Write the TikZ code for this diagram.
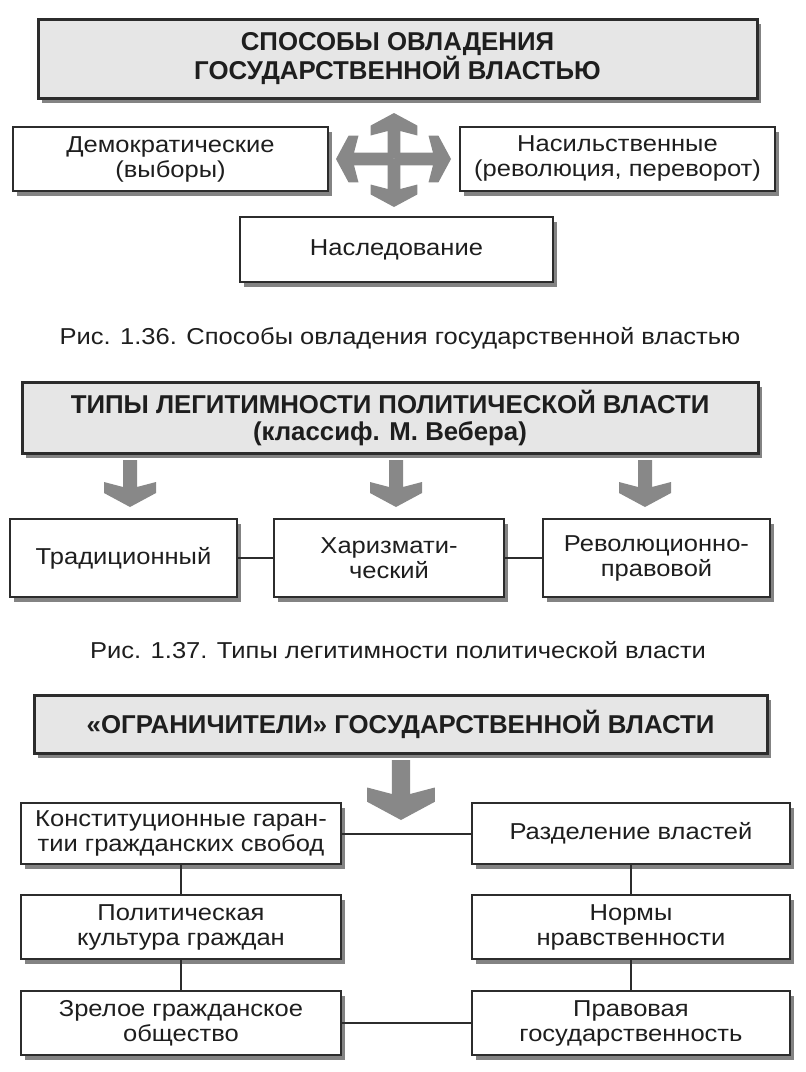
\documentclass[tikz,border=0pt]{standalone}
\usepackage{fontspec}
\setmainfont{Liberation Sans}[FakeStretch=1.11]
\newfontfamily\headfont{Liberation Sans}
\usetikzlibrary{shadows}
\definecolor{ink}{HTML}{1E1E1E}
\definecolor{framegray}{HTML}{2C2C2C}
\definecolor{headfill}{HTML}{E6E6E6}
\definecolor{arrowgray}{HTML}{888888}
\definecolor{shadowgray}{HTML}{6E6E6E}
\begin{document}
\begin{tikzpicture}[x=1pt, y=-1pt,
    box/.style={rectangle, draw=framegray, line width=2pt, fill=white, minimum height=64pt, inner sep=0pt, align=center, text=ink, font=\fontsize{23}{25}\selectfont, drop shadow={shadow xshift=4pt, shadow yshift=-5pt, fill=shadowgray, opacity=0.85}},
    headbox/.style={box, line width=3pt, fill=headfill, font=\headfont\bfseries\fontsize{25.8}{27}\selectfont},
    caption/.style={text=ink, font=\fontsize{23}{25}\selectfont},
    link/.style={draw=framegray, line width=2pt},
    fatarrow/.pic={\fill[arrowgray] (0,0) -- (-26,-14) -- (-26,-25) -- (-7,-20) -- (-7,-#1) -- (7,-#1) -- (7,-20) -- (26,-25) -- (26,-14) -- cycle;}
]
\fill[white] (0,0) rectangle (806,1072);
\useasboundingbox (0,0) rectangle (806,1072);
% Fig. 1.36
\node[headbox, minimum width=719pt, minimum height=79pt] (ways) at (397.5,58.5) {СПОСОБЫ ОВЛАДЕНИЯ\\ГОСУДАРСТВЕННОЙ ВЛАСТЬЮ};
\node[box, minimum width=315pt] (democ) at (170.5,159) {Демократические\\(выборы)};
\node[box, minimum width=315pt] (violent) at (617.5,158.5) {Насильственные\\(революция, переворот)};
\node[box, minimum width=313pt, minimum height=65pt] (inherit) at (396.5,249.5) {Наследование};
\pic[rotate=180, scale=0.9] at (394,113) {fatarrow=50};
\pic[scale=0.9] at (394,207) {fatarrow=54};
\pic[rotate=-90, scale=0.9] at (336,159) {fatarrow=64};
\pic[rotate=90, scale=0.9] at (451,159) {fatarrow=63};
\node[caption] (cap1) at (400,338) {Рис. 1.36. Способы овладения государственной властью};
% Fig. 1.37
\node[headbox, minimum width=736pt, minimum height=71pt] (legit) at (390,417.5) {ТИПЫ ЛЕГИТИМНОСТИ ПОЛИТИЧЕСКОЙ ВЛАСТИ\\(классиф. М. Вебера)};
\foreach \ax in {130,396,645}
  \pic at (\ax,507) {fatarrow=47};
\node[box, minimum width=227pt, minimum height=78pt] (trad) at (123.5,558) {Традиционный};
\node[box, minimum width=230pt, minimum height=78pt] (charis) at (389,558) {Харизмати-\\ческий};
\node[box, minimum width=227pt, minimum height=78pt] (revol) at (656.5,558) {Революционно-\\правовой};
\draw[link] (trad) -- (charis);
\draw[link] (charis) -- (revol);
\node[caption] (cap2) at (398,650) {Рис. 1.37. Типы легитимности политической власти};
% Limits of state power
\node[headbox, minimum width=733pt, minimum height=58pt] (limits) at (400.5,724) {«ОГРАНИЧИТЕЛИ» ГОСУДАРСТВЕННОЙ ВЛАСТИ};
\pic[scale=1.3] at (401,820) {fatarrow=46};
\node[box, minimum width=320pt, minimum height=61pt] (konst) at (181,833.5) {Конституционные гаран-\\тии гражданских свобод};
\node[box, minimum width=318pt, minimum height=61pt] (sep) at (631,833.5) {Разделение властей};
\node[box, minimum width=320pt] (polit) at (181,927) {Политическая\\культура граждан};
\node[box, minimum width=318pt] (moral) at (631,927) {Нормы\\нравственности};
\node[box, minimum width=320pt] (mature) at (181,1023) {Зрелое гражданское\\общество};
\node[box, minimum width=318pt] (legal) at (631,1023) {Правовая\\государственность};
\draw[link] (konst) -- (sep);
\draw[link] (konst) -- (polit);
\draw[link] (polit) -- (mature);
\draw[link] (sep) -- (moral);
\draw[link] (moral) -- (legal);
\draw[link] (mature) -- (legal);
\end{tikzpicture}
\end{document}
